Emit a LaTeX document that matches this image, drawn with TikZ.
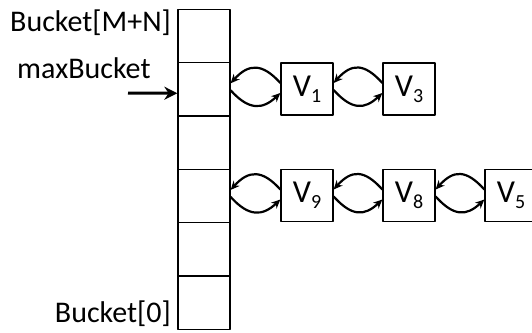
\documentclass[tikz,border=0pt]{standalone}
\usepackage{fontspec}
\setmainfont{Carlito}
\usetikzlibrary{arrows.meta}
\newcommand{\vsub}[1]{V\raisebox{-6pt}{\fontsize{20}{20}\selectfont #1}}
\begin{document}
\begin{tikzpicture}[x=1pt, y=-1pt, line join=round, >={Stealth[length=9pt,width=8pt]},
	cell/.style={draw, line width=1.3pt, minimum width=52pt, minimum height=53.3pt, inner sep=0pt},
	vbox/.style={draw, line width=1.3pt, minimum width=52pt, minimum height=52pt, inner sep=0pt, font=\fontsize{32}{32}\selectfont},
	lbl/.style={inner sep=0pt, font=\fontsize{30}{30}\selectfont},
	link/.style={->, line width=2.2pt}]
			\clip (0,0) rectangle (532,332);
			\useasboundingbox (0,0) rectangle (532,332);
			\foreach \i in {0,...,5}
				\node[cell] (b\i) at (204,302.5-53.3*\i) {};
			\node[lbl, anchor=base east] (btop) at (171,31) {Bucket[M+N]};
			\node[lbl, anchor=base west] (maxb) at (17,78) {maxBucket};
			\node[lbl, anchor=base east] (bbot) at (171,322) {Bucket[0]};
			\node[vbox] (v1) at (307,89) {\vsub{1}};
			\node[vbox] (v3) at (409,89) {\vsub{3}};
			\node[vbox] (v9) at (307,195.5) {\vsub{9}};
			\node[vbox] (v8) at (409,195.5) {\vsub{8}};
			\node[vbox] (v5) at (511,195.5) {\vsub{5}};
			\coordinate (mtail) at (128,93);
			\draw[-{Stealth[length=13pt,width=13pt]}, line width=3pt] (mtail) -- ([yshift=-4pt]b4.west);
			\foreach \a/\b in {b4/v1, v1/v3, b2/v9, v9/v8, v8/v5} {
				\draw[link] ([yshift=6pt]\b.west) .. controls +(-18,-20) and +(18,-20) .. ([yshift=6pt]\a.east);
				\draw[link] ([yshift=-1pt]\a.east) .. controls +(18,20) and +(-18,17) .. ([yshift=-4pt]\b.west);
			}
		\end{tikzpicture}
\end{document}
